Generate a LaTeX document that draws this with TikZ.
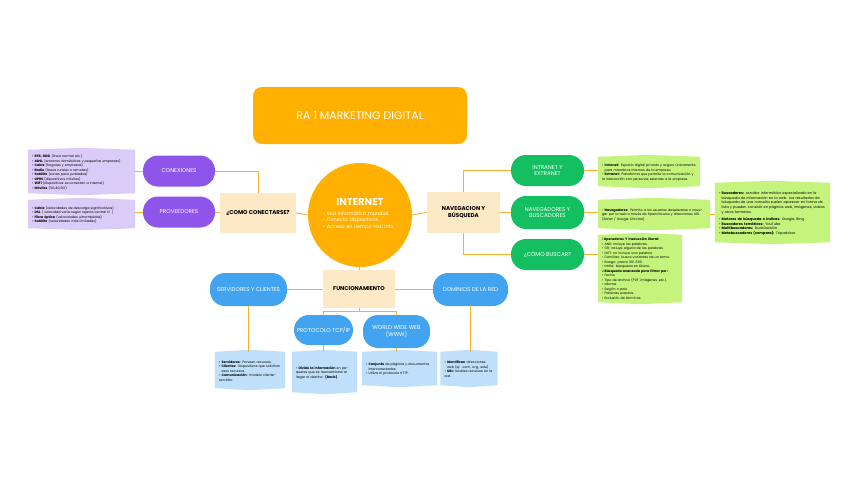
\documentclass[tikz,border=0pt]{standalone}
\usepackage{fontspec}
\setmainfont{Poppins}
\usetikzlibrary{backgrounds}
\pgfdeclarelayer{bottom}
\pgfsetlayers{bottom,background,main}
\definecolor{titleor}{HTML}{FFB000}
\definecolor{lineor}{HTML}{F7B12A}
\definecolor{peach}{HTML}{FDE9C6}
\definecolor{purp}{HTML}{8F55EA}
\definecolor{lav}{HTML}{DACBF8}
\definecolor{grn}{HTML}{14BF62}
\definecolor{lime}{HTML}{C4F47C}
\definecolor{blu}{HTML}{42A3F1}
\definecolor{lblu}{HTML}{BFDFFA}
\newcommand{\li}[1]{\par\noindent\hangindent=1.4ex\hangafter=1\makebox[1.4ex][l]{\textbullet}#1}
\tikzset{
  conn/.style={draw=lineor, line width=0.9pt},
  pill/.style={rectangle, rounded corners=15pt, text=white, align=center,
    font=\fontsize{5.6}{6.8}\selectfont, inner sep=2pt},
  hub/.style={rectangle, fill=peach, align=center, text=black,
    font=\fontsize{5.6}{6.8}\selectfont\bfseries, inner sep=2pt},
  lst/.style={rectangle, align=left, text=black, inner xsep=4pt, inner ysep=2pt,
    font=\fontsize{3.3}{4.5}\selectfont},
}
\newcommand{\shield}[2]{%
  \fill[#2] (#1.north west) -- ([yshift=2pt]#1.north) -- (#1.north east) -- (#1.south east) -- ([yshift=-2pt]#1.south) -- (#1.south west) -- cycle;}
\begin{document}
\begin{tikzpicture}[x=1pt,y=-1pt]
\begin{pgfonlayer}{bottom}
\fill[white] (0,0) rectangle (848,477);
\end{pgfonlayer}
\useasboundingbox (0,0) rectangle (848,477);

% title
\node[fill=titleor, rounded corners=9pt, minimum width=214pt, minimum height=57pt, text=white,
  font=\fontsize{11}{13}\selectfont] (title) at (360,115.5) {RA 1 MARKETING DIGITAL};

% internet circle
\node[circle, fill=titleor, minimum size=104pt, inner sep=0pt] (inet) at (360,215) {};
\node[text=white, font=\fontsize{10}{12}\selectfont\bfseries] (inettitle) at (360,202) {INTERNET};
\node[text=white, align=left, text width=84pt, inner sep=0pt, font=\fontsize{4.9}{6.6}\selectfont] (inettext) at (365,219)
 {\li{Red informática mundial.}\li{Conecta dispositivos.}\li{Acceso en tiempo real info.}};

% left branch
\node[hub, minimum width=76pt, minimum height=40pt] (como) at (258,213) {¿COMO CONECTARSE?};
\node[pill, fill=purp, minimum width=72pt, minimum height=31pt] (conex) at (179,171) {CONEXIONES};
\node[pill, fill=purp, minimum width=72pt, minimum height=31pt] (prov) at (179,212) {PROVEEDORES};
\node[lst, text width=99pt, minimum height=43pt] (conlist) at (81.5,171.5) {%
\li{\textbf{RTB, RDSI} (línea normal etc.)}%
\li{\textbf{ADSL} (entornos domésticos y pequeñas empresas)}%
\li{\textbf{Cable} (hogares y empresas)}%
\li{\textbf{Radio} (áreas rurales o remotas)}%
\li{\textbf{Satélite} (zonas poco pobladas)}%
\li{\textbf{GPRS} (dispositivos móviles)}%
\li{\textbf{WiFi} (dispositivos se conectan a Internet)}%
\li{\textbf{Móviles} (3G,4G,5G)}};
\node[lst, text width=99pt, minimum height=28pt] (provlist) at (81.5,214) {%
\li{\textbf{Cable} (velocidades de descarga significativas)}%
\li{\textbf{DSL} ( velocidad varía según lejanía central tf. )}%
\li{\textbf{Fibra óptica} (velocidades ultrarrápidas)}%
\li{\textbf{Satélite} (velocidades más limitadas)}};

% right branch
\node[hub, minimum width=73pt, minimum height=41pt] (nav) at (463.5,212.5) {NAVEGACION Y\\BÚSQUEDA};
\node[pill, fill=grn, minimum width=73pt, minimum height=31pt] (intra) at (547.5,170.5) {INTRANET Y\\EXTRANET};
\node[pill, fill=grn, minimum width=73pt, minimum height=33pt] (navb) at (547.5,212.5) {NAVEGADORES Y\\BUSCADORES};
\node[pill, fill=grn, minimum width=73pt, minimum height=31pt] (buscar) at (547.5,254.5) {¿CÓMO BUSCAR?};
\node[lst, text width=94pt, minimum height=29pt] (intralist) at (649,171.5) {%
\li{\textbf{Intranet:} Espacio digital privado y seguro únicamente para miembros internos de la empresa.}%
\li{\textbf{Extranet:} Plataforma que permite la comunicación y la interacción con personas externas a la empresa.}};
\node[lst, text width=104pt, minimum height=28pt] (navlist) at (654,214) {%
\li{\textbf{Navegadores:} Permite a los usuarios desplazarse o navegar por la web a través de hipervínculos y direcciones URL (Safari / Google Chrome)}};
\node[lst, text width=76pt, minimum height=67pt] (buscarlist) at (640,268.5) {%
\noindent 1.\textbf{Operadores Y traducción literal:}%
\li{AND: incluye las palabras.}%
\li{OR: incluye alguna de las palabras.}%
\li{NOT: no incluye una palabra.}%
\li{Comillas: busca variantes de un tema.}%
\li{Rango: precio 100..500.}%
\li{Intitle: búsqueda en títulos.}%
\par\noindent 2.\textbf{Búsqueda avanzada para filtrar por:}%
\li{Fecha.}%
\li{Tipo de archivo (PDF, imágenes, etc.).}%
\li{Idioma.}%
\li{Región o país.}%
\li{Palabras exactas.}%
\li{Exclusión de términos.}};
\node[lst, text width=107pt, minimum height=59pt, font=\fontsize{3.5}{4.8}\selectfont] (busclist) at (772.5,212.5) {%
\li{\textbf{Buscadores:} servidor informático especializado en la búsqueda de información en la web. Los resultados de búsqueda de una consulta suelen aparecer en forma de lista y pueden consistir en páginas web, imágenes, vídeos y otros formatos.}%
\par\vspace{2pt}%
\li{\textbf{Motores de búsqueda o índices:} Google, Bing.}%
\li{\textbf{Buscadores temáticos:} YouTube}%
\li{\textbf{Multibuscadores:} DuckDuckGo}%
\li{\textbf{Metabuscadores (compara):} Tripadvisor}};

% bottom branch
\node[hub, minimum width=72pt, minimum height=38pt] (func) at (359,289) {FUNCIONAMIENTO};
\node[pill, fill=blu, minimum width=77pt, minimum height=33pt] (serv) at (248.5,289.5) {SERVIDORES Y CLIENTES};
\node[pill, fill=blu, minimum width=75pt, minimum height=33pt] (dom) at (470.5,289.5) {DOMINIOS DE LA RED};
\node[pill, fill=blu, minimum width=59pt, minimum height=30pt] (prot) at (323.5,330) {PROTOCOLO TCP/IP};
\node[pill, fill=blu, minimum width=67pt, minimum height=33pt] (www) at (396.5,331.5) {WORLD WIDE WEB\\(WWW)};
\node[lst, text width=62pt, minimum height=36pt] (servlist) at (250,370) {%
\li{\textbf{Servidores:} Proveen recursos.}%
\li{\textbf{Clientes:} Dispositivos que solicitan esos recursos.}%
\li{\textbf{Comunicación:} modelo cliente-servidor.}};
\node[lst, text width=57pt, minimum height=40pt] (protlist) at (324.5,372) {%
\li{\textbf{Divide la información} en paquetes que se reensamblan al llegar al destino. \textbf{(Basic)}}};
\node[lst, text width=67pt, minimum height=33pt] (wwwlist) at (399.5,368.5) {%
\li{\textbf{Conjunto} de páginas y documentos interconectados.}%
\li{Utiliza el protocolo HTTP.}};
\node[lst, text width=49pt, minimum height=33pt] (domlist) at (469,368.5) {%
\li{\textbf{Identifican} direcciones web (ej: .com, .org, .edu)}%
\li{\textbf{URL:} localiza recursos en la red.}};

\begin{scope}[on background layer]
\shield{conlist}{lav}
\shield{provlist}{lav}
\shield{intralist}{lime}
\shield{navlist}{lime}
\shield{buscarlist}{lime}
\shield{busclist}{lime}
\shield{servlist}{lblu}
\shield{protlist}{lblu}
\shield{wwwlist}{lblu}
\shield{domlist}{lblu}
% connectors
\draw[conn] (inet.west) -- (como.east);
\draw[conn] (inet.east) -- (nav.west);
\draw[conn] (inet.south) -- (func.north);
\draw[conn] (conex.east) -| (como.north);
\draw[conn] (prov.east) -- (prov.east -| como.west);
\draw[conn] (conlist.east |- conex) -- (conex.west);
\draw[conn] (provlist.east |- prov) -- (prov.west);
\draw[conn] (nav.north) |- (intra.west);
\draw[conn] (nav.east) -- (navb.west);
\draw[conn] (nav.south) |- (buscar.west);
\draw[conn] (intra.east) -- (intra.east -| intralist.west);
\draw[conn] (navb.east) -- (navb.east -| navlist.west);
\draw[conn] (buscar.east) -- (buscar.east -| buscarlist.west);
\draw[conn] (navlist.east) -- (navlist.east -| busclist.west);
\draw[conn] (func.west) -- (func.west -| serv.east);
\draw[conn] (func.east) -- (func.east -| dom.west);
\draw[conn] (func.south) -- ++(0,3) -| (prot.north);
\draw[conn] (func.south) -- ++(0,3) -| (www.north);
\draw[conn] (serv.south) -- (serv.south |- servlist.north);
\draw[conn] (prot.south) -- (prot.south |- protlist.north);
\draw[conn] (www.south) -- (www.south |- wwwlist.north);
\draw[conn] (dom.south) -- (dom.south |- domlist.north);
\end{scope}
\end{tikzpicture}
\end{document}
